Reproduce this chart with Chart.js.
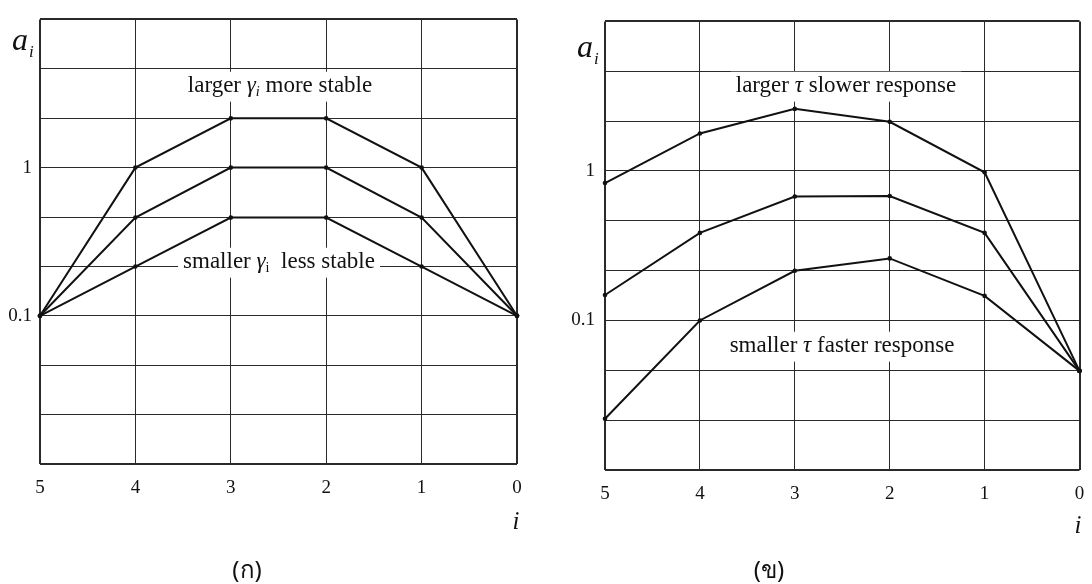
<!DOCTYPE html>
<html>
<head>
<meta charset="utf-8">
<script src="https://cdn.jsdelivr.net/npm/chart.js@4.4.1/dist/chart.umd.min.js"></script>
<style>
  body { margin: 0; background: #fff; overflow: hidden; }
  canvas { position: absolute; top: 0; }
</style>
</head>
<body>
<canvas id="gammaChart" width="546" height="584" style="left:0"></canvas>
<canvas id="tauChart" width="546" height="584" style="left:546px"></canvas>
<script>
// step index i, drawn from 5 down to 0
const steps = [5, 4, 3, 2, 1, 0];
const xTicks = [5, 4, 3, 2, 1, 0];

// (ก) weights a_i for three values of gamma
const gammaLarge = [0.1, 1.0, 2.15, 2.15, 1.0, 0.1];
const gammaMid   = [0.1, 0.46, 1.0, 1.0, 0.46, 0.1];
const gammaSmall = [0.1, 0.215, 0.46, 0.46, 0.215, 0.1];

// (ข) weights a_i for three values of tau
const tauLarge = [0.83, 1.78, 2.6, 2.13, 0.98, 0.046];
const tauMid   = [0.148, 0.385, 0.675, 0.68, 0.385, 0.046];
const tauSmall = [0.022, 0.1, 0.215, 0.26, 0.146, 0.046];

// log grid: a line every third of a decade, labels only at 1 and 0.1
const yGrid = [0.01, 0.0215, 0.0464, 0.1, 0.215, 0.464, 1, 2.154, 4.642, 10];
const yLabels = [0.1, 1];

const SERIF = '"Liberation Serif", "Times New Roman", serif';

function points(vals) {
  return steps.map((s, k) => ({ x: s, y: vals[k] }));
}

function line(vals) {
  return {
    data: points(vals),
    borderColor: '#111',
    borderWidth: 2,
    pointRadius: 2.3,
    pointBackgroundColor: '#111',
    pointBorderWidth: 0,
    tension: 0,
    clip: false
  };
}

// draw text made of pieces (italic, subscript) centred on cx
function drawRich(ctx, segs, cx, cy, size, box) {
  const fontOf = s => (s.it ? 'italic ' : '') + (s.sub ? size * 0.62 : size) + 'px ' + SERIF;
  let w = 0;
  segs.forEach(s => { ctx.font = fontOf(s); w += ctx.measureText(s.t).width; });
  let x = cx - w / 2;
  if (box) {
    ctx.fillStyle = '#fff';
    ctx.fillRect(x - 5, cy - size * 0.62, w + 10, size * 1.3);
  }
  ctx.fillStyle = '#111';
  ctx.textBaseline = 'middle';
  ctx.textAlign = 'left';
  segs.forEach(s => {
    ctx.font = fontOf(s);
    ctx.fillText(s.t, x, s.sub ? cy + size * 0.28 : cy);
    x += ctx.measureText(s.t).width;
  });
}

function makeOptions(area) {
  return {
    responsive: false,
    animation: false,
    devicePixelRatio: 1,
    layout: { padding: { left: 0, top: area.top, right: area.right, bottom: 0 } },
    plugins: { legend: { display: false }, tooltip: { enabled: false } },
    scales: {
      x: {
        type: 'linear',
        reverse: true,
        min: 0,
        max: 5,
        afterBuildTicks: s => { s.ticks = xTicks.map(v => ({ value: v })); },
        afterFit: s => { s.height = area.xh; s.paddingLeft = 0; s.paddingRight = 0; },
        ticks: { padding: 13, color: '#111', font: { family: SERIF, size: 19 }, callback: v => String(v) },
        grid: {
          drawTicks: false,
          color: '#2a2a2a',
          lineWidth: c => (c.tick && (c.tick.value === 0 || c.tick.value === 5)) ? 2 : 1
        },
        border: { display: false }
      },
      y: {
        type: 'logarithmic',
        min: 0.01,
        max: 10,
        afterBuildTicks: s => { s.ticks = yGrid.map(v => ({ value: v })); },
        afterFit: s => { s.width = area.yw; },
        ticks: {
          padding: area.ypad,
          color: '#111',
          font: { family: SERIF, size: 19 },
          autoSkip: false,
          callback: v => {
            const hit = yLabels.find(l => Math.abs(l - v) < 1e-6);
            return hit === undefined ? '' : String(hit);
          }
        },
        grid: {
          drawTicks: false,
          color: '#2a2a2a',
          lineWidth: c => (c.tick && (c.tick.value === 10 || c.tick.value === 0.01)) ? 2 : 1
        },
        border: { display: false }
      }
    }
  };
}

function notesPlugin(notes) {
  return {
    id: 'notes',
    beforeDatasetsDraw(chart) {
      const ctx = chart.ctx;
      ctx.save();
      notes.boxed.forEach(n => drawRich(ctx, n.segs, n.x, n.y, 23, true));
      ctx.restore();
    },
    afterDraw(chart) {
      const ctx = chart.ctx;
      ctx.save();
      ctx.fillStyle = '#111';
      ctx.textBaseline = 'alphabetic';
      ctx.textAlign = 'left';
      // a_i axis title
      ctx.font = 'italic 32px ' + SERIF;
      ctx.fillText('a', notes.ai.x, notes.ai.y);
      const aw = ctx.measureText('a').width;
      ctx.font = 'italic 17px ' + SERIF;
      ctx.fillText('i', notes.ai.x + aw + 1, notes.ai.y + 7);
      // i axis title
      ctx.textAlign = 'center';
      ctx.font = 'italic 25px ' + SERIF;
      ctx.fillText('i', notes.iAxis.x, notes.iAxis.y);
      // caption
      ctx.textBaseline = 'middle';
      ctx.font = '24px "Noto Sans", "DejaVu Sans", sans-serif';
      ctx.fillText(notes.caption.t, notes.caption.x, notes.caption.y);
      ctx.restore();
    }
  };
}

const gammaNotes = {
  boxed: [
    { x: 280, y: 86, segs: [{ t: 'larger ' }, { t: 'γ', it: true }, { t: 'i', it: true, sub: true }, { t: ' more stable' }] },
    { x: 279, y: 262, segs: [{ t: 'smaller ' }, { t: 'γ', it: true }, { t: 'i', sub: true }, { t: '  less stable' }] }
  ],
  ai: { x: 12, y: 50 },
  iAxis: { x: 516, y: 529 },
  caption: { t: '(ก)', x: 247, y: 571 }
};

const tauNotes = {
  boxed: [
    { x: 300, y: 86, segs: [{ t: 'larger ' }, { t: 'τ', it: true }, { t: ' slower response' }] },
    { x: 296, y: 346, segs: [{ t: 'smaller ' }, { t: 'τ', it: true }, { t: ' faster response' }] }
  ],
  ai: { x: 31, y: 57 },
  iAxis: { x: 532, y: 533 },
  caption: { t: '(ข)', x: 223, y: 571 }
};

const gammaChart = document.getElementById('gammaChart');

new Chart(gammaChart, {
  type: 'line',
  data: { datasets: [line(gammaLarge), line(gammaMid), line(gammaSmall)] },
  options: makeOptions({ top: 8, right: 29, xh: 120, yw: 40, ypad: 8 }),
  plugins: [notesPlugin(gammaNotes)]
});

const tauChart = document.getElementById('tauChart');

new Chart(tauChart, {
  type: 'line',
  data: { datasets: [line(tauLarge), line(tauMid), line(tauSmall)] },
  options: makeOptions({ top: 14, right: 12.5, xh: 114, yw: 59, ypad: 10 }),
  plugins: [notesPlugin(tauNotes)]
});
</script>
</body>
</html>
